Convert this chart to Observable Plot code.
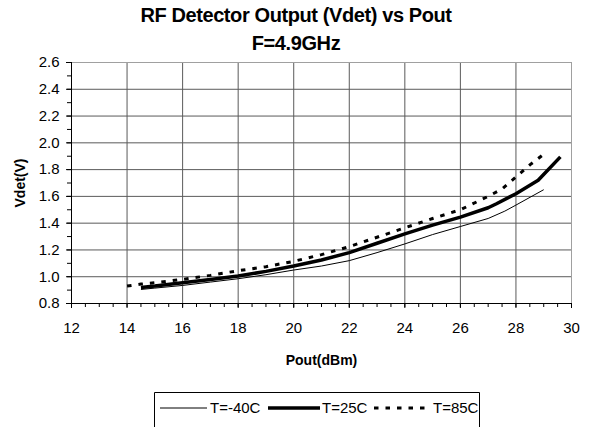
<!DOCTYPE html>
<html><head><meta charset="utf-8">
<script src="https://cdn.jsdelivr.net/npm/d3@7"></script>
<script src="https://cdn.jsdelivr.net/npm/@observablehq/plot@0.6"></script>
<style>
body{margin:0;background:#fff;font-family:"Liberation Sans",Arial,sans-serif;}
#wrap{position:relative;width:592px;height:427px;overflow:hidden;background:#fff;}
#title{position:absolute;left:0;top:1px;width:592px;text-align:center;font-weight:bold;font-size:20px;letter-spacing:-0.4px;line-height:28px;color:#000;z-index:2;}
#chart{position:absolute;left:0;top:48px;z-index:1;}
#chart svg{background:transparent !important;}
#legend{position:absolute;left:154px;top:392px;}
</style></head><body>
<div id="wrap">
<div id="title">RF Detector Output (Vdet) vs Pout<br>F=4.9GHz</div>
<div id="chart"></div>
<div id="legend"></div>
</div>
<script>
const seriesNames = ["T=-40C", "T=25C", "T=85C"];

const poutM40 = [14.5, 15, 16, 17, 18, 19, 20, 21, 22, 23, 24, 25, 26, 27, 27.6, 28, 29];
const vdetM40 = [0.905, 0.915, 0.935, 0.96, 0.985, 1.015, 1.05, 1.08, 1.12, 1.18, 1.245, 1.315, 1.375, 1.435, 1.49, 1.535, 1.65];

const pout25 = [14.5, 15, 16, 17, 18, 19, 20, 21, 22, 23, 24, 25, 26, 27, 27.3, 28, 28.8, 29.6];
const vdet25 = [0.92, 0.93, 0.955, 0.98, 1.005, 1.04, 1.08, 1.125, 1.18, 1.25, 1.32, 1.385, 1.445, 1.515, 1.545, 1.62, 1.72, 1.895];

const pout85 = [14.0, 14.5, 15, 16, 17, 18, 19, 20, 21, 22, 23, 24, 25, 26, 27, 27.5, 28, 28.5, 29];
const vdet85 = [0.93, 0.945, 0.955, 0.98, 1.01, 1.045, 1.075, 1.115, 1.165, 1.225, 1.295, 1.365, 1.435, 1.5, 1.6, 1.655, 1.745, 1.835, 1.915];

const xTicks = [12, 14, 16, 18, 20, 22, 24, 26, 28, 30];
const xMinorTicks = d3.range(12, 30.001, 0.5);
const yTicks = [0.8, 1.0, 1.2, 1.4, 1.6, 1.8, 2.0, 2.2, 2.4, 2.6];
const yMinorTicks = d3.range(0.8, 2.6001, 0.1);

const xLabel = "Pout(dBm)";
const yLabel = "Vdet(V)";

const styles = {
  "T=-40C": {strokeWidth: 1, dash: null},
  "T=25C": {strokeWidth: 3.5, dash: null},
  "T=85C": {strokeWidth: 3, dash: "4.5,7"}
};

const rows = [];
poutM40.forEach((x, i) => rows.push({series: seriesNames[0], x, y: vdetM40[i]}));
pout25.forEach((x, i) => rows.push({series: seriesNames[1], x, y: vdet25[i]}));
pout85.forEach((x, i) => rows.push({series: seriesNames[2], x, y: vdet85[i]}));

const font = "'Liberation Sans', Arial, sans-serif";

const lineMarks = seriesNames.map(s => Plot.line(rows.filter(d => d.series === s), {
  x: "x", y: "y", stroke: "#000",
  strokeWidth: styles[s].strokeWidth,
  strokeDasharray: styles[s].dash,
  strokeLinejoin: "round", strokeLinecap: "butt", curve: "linear"
}));

const chart = Plot.plot({
  width: 592,
  height: 340,
  marginTop: 14,
  marginBottom: 85,
  marginLeft: 71,
  marginRight: 21,
  style: {fontFamily: font, background: "transparent", color: "#000"},
  x: {domain: [12, 30]},
  y: {domain: [0.8, 2.6]},
  marks: [
    Plot.ruleY(yTicks.slice(1, -1), {stroke: "#5a5a5a", strokeWidth: 1}),
    Plot.ruleX(xTicks.slice(1, -1), {stroke: "#5a5a5a", strokeWidth: 1}),
    Plot.ruleY([2.6], {stroke: "#a0a0a0", strokeWidth: 1}),
    Plot.ruleX([30], {stroke: "#a0a0a0", strokeWidth: 1}),
    Plot.axisY(yMinorTicks, {tickSize: 4, tickFormat: () => "", label: null}),
    Plot.axisY(yTicks, {tickSize: 5, tickPadding: 7, tickFormat: d => d.toFixed(1), fontSize: 15, label: null}),
    Plot.axisX(xMinorTicks, {tickSize: 4, tickFormat: () => "", label: null}),
    Plot.axisX(xTicks, {tickSize: 5, tickPadding: 14, tickFormat: d => String(d), fontSize: 15, label: null}),
    Plot.ruleX([12], {stroke: "#000", strokeWidth: 1}),
    Plot.ruleY([0.8], {stroke: "#000", strokeWidth: 1}),
    ...lineMarks,
    Plot.text([yLabel], {frameAnchor: "left", dx: -51, rotate: -90, text: d => d, fontWeight: "bold", fontSize: 14, textAnchor: "middle", lineAnchor: "middle"}),
    Plot.text([xLabel], {frameAnchor: "bottom", dy: 57, text: d => d, fontWeight: "bold", fontSize: 14, textAnchor: "middle", lineAnchor: "middle"})
  ]
});
document.getElementById("chart").appendChild(chart);

// Legend
const lg = d3.select("#legend").append("svg")
  .attr("width", 330).attr("height", 36)
  .style("font-family", font);
lg.append("path").attr("d", "M0.5,36 V0.5 H325.5 V36").attr("fill", "none").attr("stroke", "#000").attr("stroke-width", 1);
const items = [
  {name: seriesNames[0], x0: 6, x1: 53, tx: 56},
  {name: seriesNames[1], x0: 114, x1: 166, tx: 168},
  {name: seriesNames[2], x0: 220, x1: 276, tx: 279}
];
items.forEach(it => {
  lg.append("line").attr("x1", it.x0).attr("x2", it.x1).attr("y1", 16).attr("y2", 16)
    .attr("stroke", "#000").attr("stroke-width", styles[it.name].strokeWidth)
    .attr("stroke-dasharray", styles[it.name].dash);
  lg.append("text").attr("x", it.tx).attr("y", 16).attr("dy", "0.35em")
    .attr("font-size", 15).text(it.name);
});
</script>
</body></html>
